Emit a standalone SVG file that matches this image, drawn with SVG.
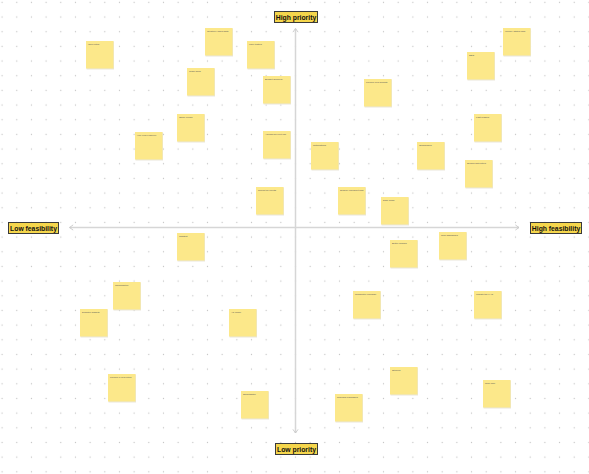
<svg xmlns="http://www.w3.org/2000/svg" width="589" height="474" viewBox="0 0 589 474">
<defs>
<pattern id="dots" patternUnits="userSpaceOnUse" x="288.17" y="24.37" width="14.67" height="14.67">
<circle cx="7.33" cy="7.33" r="0.65" fill="#c4c4c4"/>
</pattern>
<marker id="chev" viewBox="0 0 8 8" refX="6.5" refY="4" markerWidth="6.5" markerHeight="6.5" orient="auto-start-reverse" markerUnits="userSpaceOnUse">
<path d="M2,0.8 L6.5,4 L2,7.2" fill="none" stroke="#c8c8c8" stroke-width="1.1"/>
</marker>
</defs>
<style>
.note rect.sh{fill:#e9e6da}
.note rect.bg{fill:#fce88a}
.note text{font-family:"Liberation Sans",Arial,sans-serif;font-size:2.4px;fill:#555}
.lbl rect{fill:#f5d64c;stroke:#3a3a3a;stroke-width:1}
.lbl text{font-family:"Liberation Sans",Arial,sans-serif;font-weight:bold;font-size:6.8px;fill:#111;text-anchor:middle}
.axis{stroke:#d6d6d6;stroke-width:1.5;fill:none}
</style>
<rect width="589" height="474" fill="#ffffff"/>
<rect width="589" height="474" fill="url(#dots)"/>
<g id="connectors">
<line class="axis" x1="295.5" y1="433" x2="295.5" y2="28.5" marker-end="url(#chev)" marker-start="url(#chev)"/>
<line class="axis" x1="69.5" y1="227.5" x2="519" y2="227.5" marker-end="url(#chev)" marker-start="url(#chev)"/>
</g>
<g id="label-high-priority" class="lbl"><rect x="274.5" y="11.5" width="43" height="11"/><text x="296" y="19.6">High priority</text></g>
<g id="label-low-priority" class="lbl"><rect x="275.5" y="443.5" width="42" height="11"/><text x="296.5" y="451.6">Low priority</text></g>
<g id="label-low-feasibility" class="lbl"><rect x="8.5" y="222.5" width="50" height="11"/><text x="33.5" y="230.6">Low feasibility</text></g>
<g id="label-high-feasibility" class="lbl"><rect x="530.5" y="222.5" width="51" height="11"/><text x="556" y="230.6">High feasibility</text></g>
<g id="note-1" class="note"><rect class="sh" x="86.5" y="41.5" width="27.5" height="28"/><rect class="bg" x="86" y="41" width="27.5" height="27.5"/><text x="88" y="45">Idea notes</text></g>
<g id="note-2" class="note"><rect class="sh" x="205.5" y="28.5" width="27.5" height="28"/><rect class="bg" x="205" y="28" width="27.5" height="27.5"/><text x="207" y="32">Quarterly sales data</text></g>
<g id="note-3" class="note"><rect class="sh" x="187.5" y="68.5" width="27.5" height="28"/><rect class="bg" x="187" y="68" width="27.5" height="27.5"/><text x="189" y="72">Team skills</text></g>
<g id="note-4" class="note"><rect class="sh" x="247.5" y="41.5" width="27.5" height="28"/><rect class="bg" x="247" y="41" width="27.5" height="27.5"/><text x="249" y="45">User testing</text></g>
<g id="note-5" class="note"><rect class="sh" x="263.5" y="76.5" width="27.5" height="28"/><rect class="bg" x="263" y="76" width="27.5" height="27.5"/><text x="265" y="80">Budget approval</text></g>
<g id="note-6" class="note"><rect class="sh" x="177.5" y="114.5" width="27.5" height="28"/><rect class="bg" x="177" y="114" width="27.5" height="27.5"/><text x="179" y="118">Office needs</text></g>
<g id="note-7" class="note"><rect class="sh" x="135.5" y="132.5" width="27.5" height="28"/><rect class="bg" x="135" y="132" width="27.5" height="27.5"/><text x="137" y="136">Hire new engineer</text></g>
<g id="note-8" class="note"><rect class="sh" x="263.5" y="131.5" width="27.5" height="28"/><rect class="bg" x="263" y="131" width="27.5" height="27.5"/><text x="265" y="135">Agenda for next call</text></g>
<g id="note-9" class="note"><rect class="sh" x="256.5" y="187.5" width="27.5" height="28"/><rect class="bg" x="256" y="187" width="27.5" height="27.5"/><text x="258" y="191">Report for clients</text></g>
<g id="note-10" class="note"><rect class="sh" x="364.5" y="79.5" width="27.5" height="28"/><rect class="bg" x="364" y="79" width="27.5" height="27.5"/><text x="366" y="83">Launch new website</text></g>
<g id="note-11" class="note"><rect class="sh" x="311.5" y="142.5" width="27.5" height="28"/><rect class="bg" x="311" y="142" width="27.5" height="27.5"/><text x="313" y="146">Notifications</text></g>
<g id="note-12" class="note"><rect class="sh" x="417.5" y="142.5" width="27.5" height="28"/><rect class="bg" x="417" y="142" width="27.5" height="27.5"/><text x="419" y="146">Onboarding</text></g>
<g id="note-13" class="note"><rect class="sh" x="338.5" y="187.5" width="27.5" height="28"/><rect class="bg" x="338" y="187" width="27.5" height="27.5"/><text x="340" y="191">Simplify checkout flow</text></g>
<g id="note-14" class="note"><rect class="sh" x="381.5" y="197.5" width="27.5" height="28"/><rect class="bg" x="381" y="197" width="27.5" height="27.5"/><text x="383" y="201">Dark mode</text></g>
<g id="note-15" class="note"><rect class="sh" x="503.5" y="28.5" width="27.5" height="28"/><rect class="bg" x="503" y="28" width="27.5" height="27.5"/><text x="505" y="32">Weekly status calls</text></g>
<g id="note-16" class="note"><rect class="sh" x="467.5" y="52.5" width="27.5" height="28"/><rect class="bg" x="467" y="52" width="27.5" height="27.5"/><text x="469" y="56">SSO</text></g>
<g id="note-17" class="note"><rect class="sh" x="474.5" y="114.5" width="27.5" height="28"/><rect class="bg" x="474" y="114" width="27.5" height="27.5"/><text x="476" y="118">Fast loading</text></g>
<g id="note-18" class="note"><rect class="sh" x="465.5" y="160.5" width="27.5" height="28"/><rect class="bg" x="465" y="160" width="27.5" height="27.5"/><text x="467" y="164">Search with filters</text></g>
<g id="note-19" class="note"><rect class="sh" x="439.5" y="232.5" width="27.5" height="28"/><rect class="bg" x="439" y="232" width="27.5" height="27.5"/><text x="441" y="236">New dashboard</text></g>
<g id="note-20" class="note"><rect class="sh" x="390.5" y="240.5" width="27.5" height="28"/><rect class="bg" x="390" y="240" width="27.5" height="27.5"/><text x="392" y="244">Better images</text></g>
<g id="note-21" class="note"><rect class="sh" x="177.5" y="233.5" width="27.5" height="28"/><rect class="bg" x="177" y="233" width="27.5" height="27.5"/><text x="179" y="237">Chatbot</text></g>
<g id="note-22" class="note"><rect class="sh" x="113.5" y="282.5" width="27.5" height="28"/><rect class="bg" x="113" y="282" width="27.5" height="27.5"/><text x="115" y="286">Gamification</text></g>
<g id="note-23" class="note"><rect class="sh" x="80.5" y="309.5" width="27.5" height="28"/><rect class="bg" x="80" y="309" width="27.5" height="27.5"/><text x="82" y="313">Desktop widgets</text></g>
<g id="note-24" class="note"><rect class="sh" x="229.5" y="309.5" width="27.5" height="28"/><rect class="bg" x="229" y="309" width="27.5" height="27.5"/><text x="231" y="313">AR mode</text></g>
<g id="note-25" class="note"><rect class="sh" x="353.5" y="291.5" width="27.5" height="28"/><rect class="bg" x="353" y="291" width="27.5" height="27.5"/><text x="355" y="295">Newsletter redesign</text></g>
<g id="note-26" class="note"><rect class="sh" x="474.5" y="291.5" width="27.5" height="28"/><rect class="bg" x="474" y="291" width="27.5" height="27.5"/><text x="476" y="295">Update the FAQ</text></g>
<g id="note-27" class="note"><rect class="sh" x="108.5" y="374.5" width="27.5" height="28"/><rect class="bg" x="108" y="374" width="27.5" height="27.5"/><text x="110" y="378">Launch in new cities</text></g>
<g id="note-28" class="note"><rect class="sh" x="241.5" y="391.5" width="27.5" height="28"/><rect class="bg" x="241" y="391" width="27.5" height="27.5"/><text x="243" y="395">Smartwatch</text></g>
<g id="note-29" class="note"><rect class="sh" x="390.5" y="367.5" width="27.5" height="28"/><rect class="bg" x="390" y="367" width="27.5" height="27.5"/><text x="392" y="371">Stickers</text></g>
<g id="note-30" class="note"><rect class="sh" x="483.5" y="380.5" width="27.5" height="28"/><rect class="bg" x="483" y="380" width="27.5" height="27.5"/><text x="485" y="384">New logo</text></g>
<g id="note-31" class="note"><rect class="sh" x="335.5" y="394.5" width="27.5" height="28"/><rect class="bg" x="335" y="394" width="27.5" height="27.5"/><text x="337" y="398">Rebrand packaging</text></g>
</svg>
